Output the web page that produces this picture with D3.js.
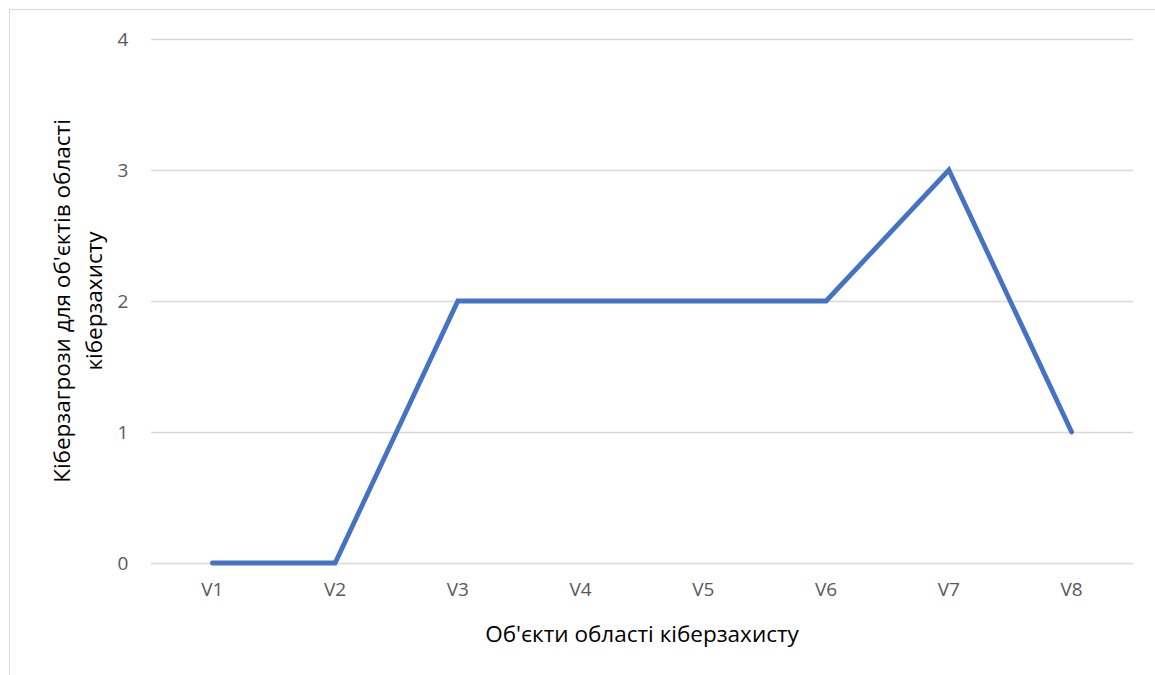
<!DOCTYPE html>
<html>
<head>
<meta charset="utf-8">
<script src="https://cdn.jsdelivr.net/npm/d3@7"></script>
<style>
  html, body { margin: 0; padding: 0; background: #fff; }
  svg { display: block; font-family: "Open Sans", "Noto Sans", sans-serif; }
</style>
</head>
<body>
<svg id="chart" width="1155" height="675"></svg>
<script>
// Threat counts per cyber-defence object
const categories = ["V1", "V2", "V3", "V4", "V5", "V6", "V7", "V8"];
const threats = [0, 0, 2, 2, 2, 2, 3, 1];
const yTicks = [0, 1, 2, 3, 4];
const xTitle = "Об'єкти області кіберзахисту";
const yTitleLines = ["Кіберзагрози для об'єктів області", "кіберзахисту"];

const FONT = '"Open Sans", "Noto Sans", sans-serif';
const svg = d3.select("#chart");
const margin = { left: 151, right: 22, top: 39, bottom: 112 };
const W = 1155, H = 675;

// chart frame
svg.append("rect")
  .attr("x", 9.5).attr("y", 9.5)
  .attr("width", W + 20).attr("height", H + 20)
  .attr("fill", "#fff").attr("stroke", "#d9d9d9").attr("stroke-width", 1);

const x = d3.scaleBand().domain(categories)
  .range([margin.left, W - margin.right]);
const y = d3.scaleLinear().domain([0, 4])
  .range([H - margin.bottom, margin.top]);

// horizontal gridlines + y labels
const yAxis = d3.axisLeft(y).tickValues(yTicks).tickFormat(d3.format("d"))
  .tickSize(-(W - margin.right - margin.left)).tickPadding(23);
const gy = svg.append("g").attr("transform", `translate(${margin.left},0)`).call(yAxis)
  .attr("font-family", FONT).attr("font-size", 19);
gy.select(".domain").remove();
gy.selectAll(".tick line").attr("stroke", "#d9d9d9").attr("stroke-width", 1.3);
gy.selectAll(".tick text").attr("fill", "#595959")
  .attr("text-anchor", "middle").attr("dx", -5);

// x labels
const xAxis = d3.axisBottom(x).tickSize(0).tickPadding(20);
const gx = svg.append("g").attr("transform", `translate(0,${H - margin.bottom})`).call(xAxis)
  .attr("font-family", FONT).attr("font-size", 19);
gx.select(".domain").remove();
gx.selectAll(".tick text").attr("fill", "#595959");

// series line
const line = d3.line()
  .x((d, i) => x(categories[i]) + x.bandwidth() / 2)
  .y(d => y(d));
svg.append("path")
  .datum(threats)
  .attr("d", line)
  .attr("fill", "none")
  .attr("stroke", "#4472c4")
  .attr("stroke-width", 4.8)
  .attr("stroke-linecap", "round")
  .attr("stroke-linejoin", "miter");

// axis titles
svg.append("text")
  .attr("x", 642).attr("y", 642)
  .attr("text-anchor", "middle")
  .attr("font-size", 22.5).attr("fill", "#000")
  .text(xTitle);

const yt = svg.append("text")
  .attr("transform", "translate(70,301) rotate(-90)")
  .attr("text-anchor", "middle")
  .attr("font-size", 22.5).attr("fill", "#000");
yTitleLines.forEach((t, i) => {
  yt.append("tspan").attr("x", 0).attr("dy", i === 0 ? 0 : 32).text(t);
});
</script>
</body>
</html>
